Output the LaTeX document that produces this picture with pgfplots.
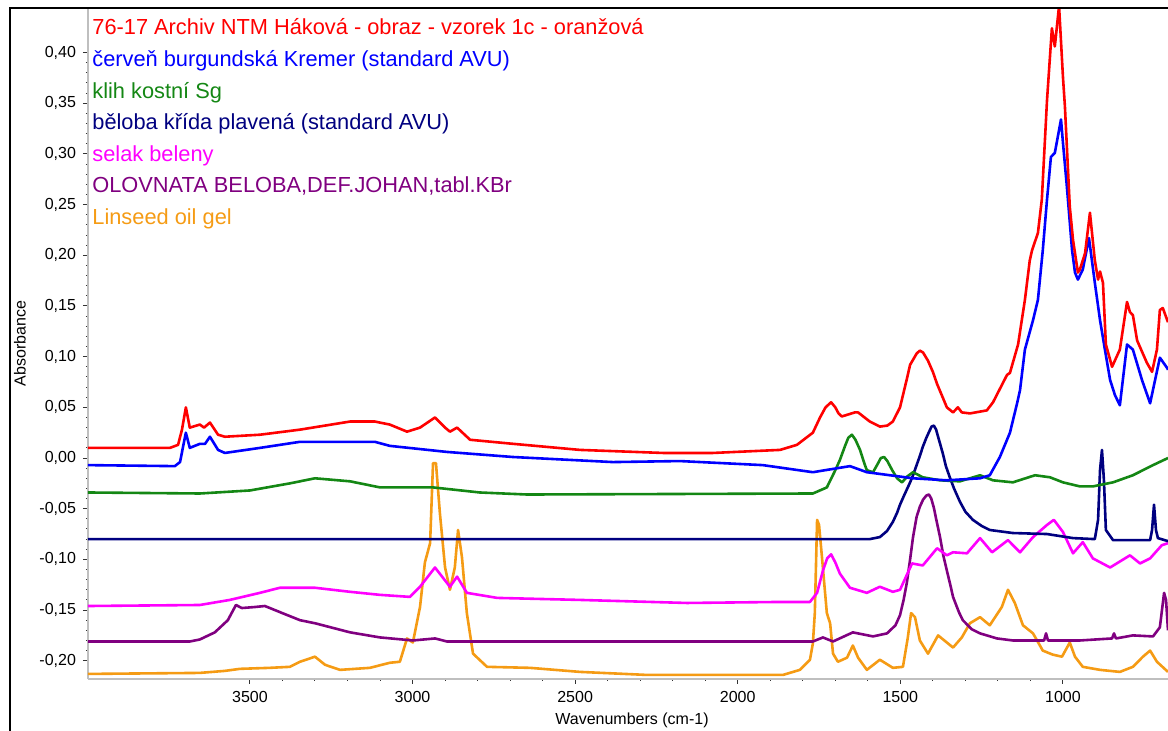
\documentclass[border=0pt]{standalone}
\usepackage{fontspec}
\setmainfont{Liberation Sans}
\usepackage{pgfplots}
\pgfplotsset{compat=1.18}
\definecolor{cRed}{RGB}{255,0,0}
\definecolor{cBlue}{RGB}{0,0,255}
\definecolor{cGreen}{RGB}{20,135,20}
\definecolor{cNavy}{RGB}{0,0,128}
\definecolor{cMag}{RGB}{255,0,255}
\definecolor{cPurple}{RGB}{128,0,128}
\definecolor{cOrange}{RGB}{245,155,20}
\begin{document}
\begin{tikzpicture}
\begin{axis}[
  at={(0,0)}, anchor=south west,
  scale only axis, width=540pt, height=335.5pt,
  x dir=reverse, xmin=677, xmax=3998,
  ymin=-0.218, ymax=0.444,
  axis x line*=bottom, axis y line*=left,
  axis line style={draw=black!25, line width=1.4pt},
  xtick={1000,1500,2000,2500,3000,3500}, minor x tick num=4,
  ytick={-0.2,-0.15,-0.1,-0.05,0,0.05,0.1,0.15,0.2,0.25,0.3,0.35,0.4}, minor y tick num=4,
  tick align=outside, major tick length=2.5pt, minor tick length=1pt,
  tick style={black!80, line width=0.5pt},
  ticklabel style={font=\fontsize{8}{9}\selectfont},
  /pgf/number format/assume math mode=true,
  yticklabel style={/pgf/number format/.cd, fixed, fixed zerofill, precision=2, use comma},
  xticklabel style={/pgf/number format/1000 sep={}},
  every axis plot/.append style={line width=1.3pt, line join=round},
]
% orange: Linseed oil gel
\addplot[cOrange] coordinates {(3998,-0.213)(3654,-0.212)(3577,-0.210)(3531,-0.208)(3439,-0.207)(3377,-0.206)(3346,-0.201)(3300,-0.196)(3269,-0.204)(3223,-0.209)(3131,-0.207)(3070,-0.202)(3039,-0.201)(3017,-0.178)(2999,-0.182)(2977,-0.147)(2962,-0.103)(2946,-0.084)(2937,-0.005)(2928,-0.005)(2916,-0.054)(2900,-0.108)(2885,-0.130)(2870,-0.108)(2860,-0.071)(2848,-0.098)(2833,-0.153)(2814,-0.193)(2771,-0.206)(2639,-0.207)(2485,-0.211)(2279,-0.214)(1861,-0.214)(1809,-0.209)(1778,-0.199)(1769,-0.183)(1763,-0.153)(1756,-0.061)(1750,-0.066)(1741,-0.098)(1726,-0.153)(1716,-0.163)(1707,-0.193)(1692,-0.201)(1664,-0.197)(1646,-0.185)(1630,-0.197)(1603,-0.209)(1563,-0.199)(1523,-0.207)(1492,-0.206)(1477,-0.177)(1467,-0.153)(1455,-0.157)(1440,-0.180)(1415,-0.193)(1384,-0.175)(1357,-0.182)(1338,-0.187)(1311,-0.177)(1286,-0.163)(1255,-0.157)(1225,-0.165)(1188,-0.147)(1169,-0.130)(1148,-0.143)(1123,-0.165)(1092,-0.173)(1062,-0.190)(1031,-0.194)(1003,-0.196)(979,-0.182)(963,-0.196)(939,-0.206)(886,-0.209)(825,-0.211)(785,-0.206)(754,-0.196)(732,-0.190)(711,-0.201)(677,-0.211)};
% purple: Olovnata beloba
\addplot[cPurple] coordinates {(3998,-0.181)(3685,-0.181)(3654,-0.179)(3608,-0.172)(3568,-0.160)(3543,-0.145)(3525,-0.148)(3485,-0.147)(3454,-0.146)(3408,-0.152)(3346,-0.160)(3300,-0.163)(3192,-0.172)(3100,-0.177)(2999,-0.180)(2931,-0.178)(2894,-0.181)(1769,-0.181)(1738,-0.177)(1707,-0.181)(1646,-0.172)(1584,-0.176)(1541,-0.173)(1515,-0.165)(1501,-0.155)(1490,-0.140)(1480,-0.123)(1470,-0.100)(1461,-0.078)(1450,-0.058)(1440,-0.048)(1430,-0.041)(1420,-0.037)(1412,-0.036)(1405,-0.040)(1397,-0.049)(1390,-0.060)(1378,-0.078)(1368,-0.096)(1357,-0.111)(1345,-0.127)(1338,-0.137)(1320,-0.152)(1308,-0.160)(1280,-0.169)(1255,-0.173)(1203,-0.178)(1154,-0.180)(1058,-0.180)(1052,-0.173)(1046,-0.180)(948,-0.180)(849,-0.178)(843,-0.173)(837,-0.178)(785,-0.175)(723,-0.176)(702,-0.167)(689,-0.133)(683,-0.140)(677,-0.170)};
% magenta: selak beleny
\addplot[cMag] coordinates {(3998,-0.146)(3654,-0.145)(3562,-0.140)(3469,-0.133)(3408,-0.128)(3300,-0.128)(3192,-0.132)(3100,-0.135)(3008,-0.137)(2977,-0.127)(2931,-0.108)(2885,-0.127)(2863,-0.117)(2833,-0.133)(2740,-0.138)(2485,-0.140)(2156,-0.143)(1870,-0.142)(1778,-0.142)(1756,-0.133)(1738,-0.111)(1725,-0.099)(1713,-0.095)(1700,-0.103)(1686,-0.114)(1655,-0.128)(1603,-0.133)(1563,-0.127)(1523,-0.132)(1501,-0.130)(1464,-0.104)(1431,-0.106)(1387,-0.089)(1357,-0.096)(1338,-0.093)(1295,-0.094)(1255,-0.079)(1218,-0.093)(1169,-0.081)(1132,-0.093)(1092,-0.078)(1049,-0.066)(1028,-0.061)(1000,-0.073)(969,-0.094)(939,-0.083)(908,-0.099)(855,-0.108)(794,-0.096)(763,-0.104)(732,-0.099)(696,-0.086)(677,-0.084)};
% navy: beloba krida
\addplot[cNavy] coordinates {(3998,-0.080)(1594,-0.080)(1563,-0.078)(1541,-0.072)(1523,-0.063)(1510,-0.054)(1501,-0.046)(1490,-0.038)(1480,-0.031)(1470,-0.024)(1461,-0.017)(1450,-0.007)(1440,0.002)(1431,0.011)(1420,0.020)(1410,0.027)(1404,0.031)(1397,0.032)(1390,0.028)(1384,0.021)(1376,0.012)(1369,0.004)(1360,-0.008)(1348,-0.019)(1335,-0.030)(1317,-0.043)(1300,-0.053)(1277,-0.061)(1250,-0.067)(1225,-0.071)(1154,-0.074)(1049,-0.075)(969,-0.079)(902,-0.080)(892,-0.061)(886,-0.012)(880,0.008)(874,-0.022)(868,-0.071)(846,-0.081)(732,-0.081)(726,-0.071)(720,-0.046)(714,-0.071)(708,-0.079)(677,-0.082)};
% green: klih kostni
\addplot[cGreen] coordinates {(3998,-0.034)(3654,-0.035)(3500,-0.032)(3377,-0.025)(3300,-0.020)(3192,-0.023)(3100,-0.029)(2937,-0.029)(2793,-0.034)(2648,-0.036)(1769,-0.035)(1726,-0.029)(1700,-0.012)(1686,-0.002)(1670,0.012)(1660,0.020)(1649,0.023)(1638,0.018)(1624,0.008)(1610,-0.006)(1603,-0.012)(1584,-0.014)(1570,-0.006)(1560,0.000)(1550,0.001)(1540,-0.003)(1525,-0.012)(1510,-0.020)(1495,-0.024)(1478,-0.018)(1461,-0.014)(1431,-0.019)(1378,-0.022)(1317,-0.023)(1255,-0.017)(1215,-0.022)(1154,-0.024)(1086,-0.017)(1040,-0.019)(1000,-0.024)(948,-0.028)(908,-0.028)(846,-0.024)(785,-0.017)(723,-0.007)(677,0.000)};
% blue: cerven burgundska
\addplot[cBlue] coordinates {(3998,-0.007)(3731,-0.008)(3715,-0.004)(3697,0.025)(3685,0.010)(3654,0.014)(3638,0.014)(3623,0.021)(3598,0.008)(3577,0.005)(3469,0.010)(3346,0.016)(3116,0.016)(3070,0.012)(2894,0.006)(2691,0.001)(2384,-0.004)(2178,-0.003)(1923,-0.007)(1769,-0.014)(1655,-0.008)(1603,-0.014)(1461,-0.020)(1357,-0.022)(1255,-0.020)(1225,-0.017)(1194,0.001)(1172,0.018)(1163,0.025)(1141,0.054)(1132,0.067)(1117,0.107)(1092,0.136)(1077,0.156)(1062,0.205)(1049,0.255)(1037,0.297)(1025,0.301)(1006,0.334)(1000,0.311)(988,0.268)(972,0.205)(963,0.183)(954,0.176)(939,0.186)(920,0.217)(902,0.173)(886,0.136)(871,0.107)(855,0.077)(840,0.062)(825,0.052)(803,0.112)(785,0.107)(757,0.077)(732,0.054)(702,0.099)(680,0.089)(677,0.087)};
% red: 76-17 sample
\addplot[cRed] coordinates {(3998,0.010)(3746,0.010)(3721,0.013)(3709,0.028)(3697,0.050)(3685,0.030)(3654,0.033)(3641,0.030)(3623,0.035)(3598,0.023)(3577,0.021)(3469,0.023)(3346,0.028)(3192,0.036)(3116,0.036)(3070,0.033)(3017,0.026)(2977,0.030)(2931,0.040)(2900,0.030)(2885,0.026)(2863,0.030)(2823,0.018)(2691,0.014)(2485,0.008)(2230,0.005)(2076,0.005)(1870,0.008)(1818,0.013)(1769,0.025)(1747,0.040)(1730,0.050)(1713,0.055)(1700,0.050)(1690,0.044)(1680,0.041)(1660,0.043)(1640,0.045)(1630,0.045)(1610,0.040)(1594,0.036)(1563,0.031)(1540,0.032)(1523,0.036)(1501,0.050)(1480,0.078)(1470,0.092)(1450,0.103)(1440,0.106)(1430,0.104)(1415,0.096)(1400,0.085)(1387,0.073)(1370,0.060)(1357,0.050)(1338,0.045)(1323,0.050)(1311,0.045)(1286,0.044)(1234,0.047)(1215,0.055)(1172,0.082)(1163,0.084)(1138,0.112)(1117,0.156)(1102,0.195)(1095,0.205)(1077,0.222)(1065,0.255)(1049,0.353)(1034,0.424)(1025,0.406)(1012,0.446)(1000,0.376)(994,0.347)(979,0.248)(969,0.215)(954,0.183)(948,0.186)(932,0.202)(917,0.242)(902,0.195)(892,0.176)(886,0.184)(877,0.173)(868,0.112)(849,0.090)(825,0.107)(803,0.154)(794,0.144)(785,0.141)(772,0.116)(742,0.094)(726,0.085)(711,0.107)(702,0.146)(693,0.148)(677,0.134)};
\end{axis}
\draw[black, line width=1.3pt] (-39pt,-26pt) -- (-39pt,335.5pt) -- (540pt,335.5pt);
\begin{scope}[every node/.style={anchor=base west, inner sep=0pt, font=\fontsize{10.9}{12}\selectfont}]
\node[text=cRed] at (2pt,322pt) {76-17 Archiv NTM Háková - obraz - vzorek 1c - oranžová};
\node[text=cBlue] at (2pt,306.2pt) {červeň burgundská Kremer (standard AVU)};
\node[text=cGreen] at (2pt,290.4pt) {klih kostní Sg};
\node[text=cNavy] at (2pt,274.6pt) {běloba křída plavená (standard AVU)};
\node[text=cMag] at (2pt,258.8pt) {selak beleny};
\node[text=cPurple] at (2pt,243pt) {OLOVNATA BELOBA,DEF.JOHAN,tabl.KBr};
\node[text=cOrange] at (2pt,227.2pt) {Linseed oil gel};
\end{scope}
\node[rotate=90, font=\fontsize{8}{9}\selectfont] at (-34pt,167.75pt) {Absorbance};
\node[font=\fontsize{8}{9}\selectfont] at (272pt,-20.5pt) {Wavenumbers (cm-1)};
\pgfresetboundingbox
\path[use as bounding box] (-44pt,-26pt) rectangle (540pt,339.5pt);
\end{tikzpicture}
\end{document}
